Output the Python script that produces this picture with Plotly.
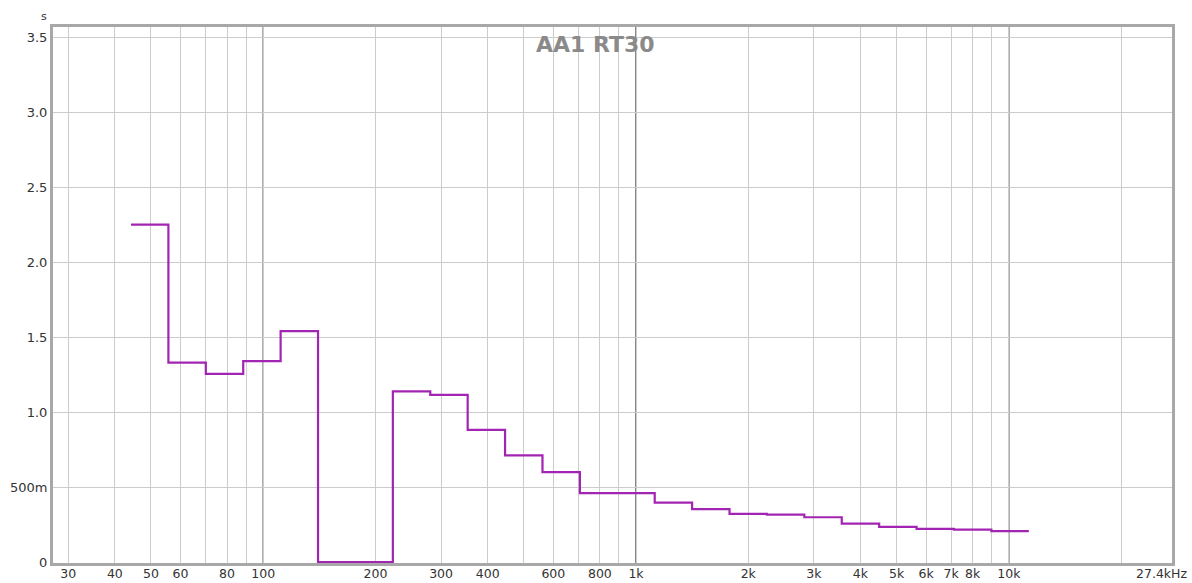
import numpy as np
import plotly.graph_objects as go

# One-third-octave band centres (nominal labels) and RT30 values in seconds
band_labels = ["50", "63", "80", "100", "125", "160", "200", "250", "315", "400",
               "500", "630", "800", "1k", "1.25k", "1.6k", "2k", "2.5k", "3.15k",
               "4k", "5k", "6.3k", "8k", "10k"]
band_index = list(range(-13, 11))  # exact centre = 1000 * 2^(n/3)
rt30 = [2.25, 1.33, 1.255, 1.34, 1.54, 0.0, 0.0, 1.138, 1.115, 0.882,
        0.711, 0.600, 0.460, 0.460, 0.397, 0.353, 0.322, 0.316, 0.299,
        0.257, 0.235, 0.221, 0.217, 0.206]

# Axis ticks and grid
x_grid = [30, 40, 50, 60, 70, 80, 90, 100, 200, 300, 400, 500, 600, 700, 800, 900,
          1000, 2000, 3000, 4000, 5000, 6000, 7000, 8000, 9000, 10000, 20000]
x_text = ["30", "40", "50", "60", "", "80", "", "100", "200", "300", "400", "", "600", "",
          "800", "", "1k", "2k", "3k", "4k", "5k", "6k", "7k", "8k", "", "10k", ""]
x_decades = [100, 1000, 10000]
y_ticks = [0, 0.5, 1.0, 1.5, 2.0, 2.5, 3.0, 3.5]
y_text = ["0", "500m", "1.0", "1.5", "2.0", "2.5", "3.0", "3.5"]

centres = 1000.0 * 2.0 ** (np.array(band_index) / 3.0)
lo = centres / 2 ** (1 / 6)
hi = centres * 2 ** (1 / 6)
xs = list(lo) + [hi[-1]]
ys = list(rt30) + [rt30[-1]]

fig = go.Figure()
fig.add_trace(go.Scatter(
    x=xs, y=ys, mode="lines", line=dict(shape="hv", color="#a224b2", width=2.2),
    hoverinfo="skip", showlegend=False,
))

# darker gridlines on the decades, between the grid and the trace
for f in x_decades:
    fig.add_shape(type="line", xref="x", yref="paper", x0=f, x1=f, y0=0, y1=1,
                  line=dict(color="#3a3a3a", width=1.2), layer="between")

font_family = "DejaVu Sans, Verdana, sans-serif"

fig.update_layout(
    width=1192, height=583,
    margin=dict(l=53, r=20, t=27, b=20),
    paper_bgcolor="white", plot_bgcolor="white",
    font=dict(family=font_family, size=13, color="#333333"),
    xaxis=dict(
        type="log", range=[np.log10(27.3), np.log10(27400)],
        tickmode="array", tickvals=x_grid, ticktext=x_text,
        showgrid=True, gridcolor="#cccccc", gridwidth=1,
        showline=True, linecolor="#a8a8a8", linewidth=3, mirror=True,
        ticks="", zeroline=False, automargin=False, ticklabelstandoff=-3,
        tickfont=dict(size=12.5, color="#333333"),
    ),
    yaxis=dict(
        range=[-0.006, 3.567],
        tickmode="array", tickvals=y_ticks, ticktext=y_text,
        showgrid=True, gridcolor="#cccccc", gridwidth=1,
        showline=True, linecolor="#a8a8a8", linewidth=3, mirror=True,
        ticks="", zeroline=False, automargin=False,
        tickfont=dict(size=13, color="#333333"),
    ),
    annotations=[
        dict(text="<b>AA1 RT30</b>", xref="paper", yref="paper", x=0.485, y=0.995,
             xanchor="center", yanchor="top", showarrow=False,
             font=dict(size=22, color="#8a8a8a", family=font_family)),
        dict(text="s", xref="paper", yref="paper", x=0, y=1, xanchor="center",
             yanchor="bottom", xshift=-9, yshift=2, showarrow=False,
             font=dict(size=11, color="#333333")),
        dict(text="27.4kHz", xref="paper", yref="paper", x=1, y=0, xanchor="right",
             yanchor="top", xshift=17, yshift=-1, showarrow=False,
             font=dict(size=12.5, color="#333333")),
    ],
)

fig.write_html("out.html")
